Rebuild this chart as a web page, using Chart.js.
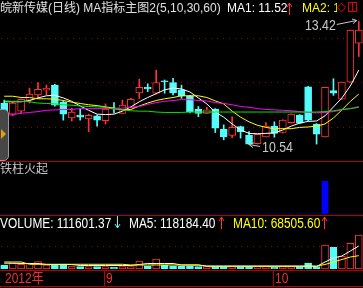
<!DOCTYPE html>
<html>
<head>
<meta charset="utf-8">
<script src="https://cdn.jsdelivr.net/npm/chart.js@4.4.1/dist/chart.umd.min.js"></script>
<style>
  html, body { margin: 0; padding: 0; background: #000; }
  #wrap { position: relative; width: 363px; height: 288px; overflow: hidden; background: #000;
          font-family: "Liberation Sans", "Noto Sans CJK SC", sans-serif; }
  canvas { position: absolute; left: 0; }
  .t { position: absolute; white-space: nowrap; line-height: 14px; height: 14px; }
  .nar { transform: scaleX(0.85); transform-origin: 0 0; }
  .sep { position: absolute; left: 0; width: 363px; height: 1px; background: #b40000; }
  svg { position: absolute; }
</style>
</head>
<body>
<div id="wrap">
  <canvas id="kline" width="363" height="161" style="top:0"></canvas>
  <canvas id="signal" width="363" height="53" style="top:162px"></canvas>
  <canvas id="vol" width="363" height="72" style="top:216px"></canvas>

  <div class="sep" style="top:161px"></div>
  <div class="sep" style="top:215px"></div>
  <div class="sep" style="top:270px"></div>
  <div class="sep" style="top:286px"></div>

  <!-- header of the price panel -->
  <div class="t" style="left:0;top:1px;font-size:12px;color:#e0e0e0">皖新传媒(日线) MA指标主图2(5,10,30,60)</div>
  <div class="t" style="left:227px;top:1px;font-size:12px;color:#fff">MA1: 11.52</div>
  <svg style="left:286px;top:2px" width="7" height="13"><path d="M3.5 1V13M1 5L3.5 1L6 5" stroke="#ff3232" fill="none"/></svg>
  <div class="t" style="left:302px;top:1px;width:35px;overflow:hidden;font-size:12px;color:#ffff00">MA2: 11.67</div>
  <svg style="left:336px;top:1px" width="24" height="13">
    <path d="M5.5 2L9.5 6.5L5.5 11L1.5 6.5Z" stroke="#e00000" fill="none"/>
    <rect x="12.5" y="1.5" width="8" height="9" stroke="#e00000" fill="none"/>
    <path d="M16.5 1.5V10.5" stroke="#e00000"/>
  </svg>

  <!-- collapse tab at left edge -->
  <div style="position:absolute;left:-6px;top:109px;width:13px;height:50px;background:#474747;border:1px solid #9a9a9a;border-radius:5px"></div>
  <div style="position:absolute;left:1px;top:129px;width:0;height:0;border-top:5px solid transparent;border-bottom:5px solid transparent;border-left:5px solid #e0a010"></div>

  <!-- indicator panel -->
  <div class="t" style="left:0;top:162px;font-size:12px;color:#c8c8c8">铁柱火起</div>

  <!-- volume header -->
  <div class="t nar" style="left:0;top:216px;font-size:14px;color:#fff">VOLUME: 111601.37</div>
  <svg style="left:114px;top:216px" width="7" height="13"><path d="M3.5 0V12M1 8L3.5 12L6 8" stroke="#54fcfc" fill="none"/></svg>
  <div class="t nar" style="left:129px;top:216px;font-size:14px;color:#fff">MA5: 118184.40</div>
  <svg style="left:218px;top:216px" width="7" height="13"><path d="M3.5 1V13M1 5L3.5 1L6 5" stroke="#ff3232" fill="none"/></svg>
  <div class="t nar" style="left:233px;top:216px;font-size:14px;color:#ffff00">MA10: 68505.60</div>
  <svg style="left:321px;top:216px" width="7" height="13"><path d="M3.5 1V13M1 5L3.5 1L6 5" stroke="#ff3232" fill="none"/></svg>
</div>

<script>
  // trading days shown, 2012-08-16 .. 2012-10-22
  const dates = [
    "08-16", "08-17", "08-20", "08-21", "08-22", "08-23", "08-24", "08-27", "08-28", "08-29", "08-30", "08-31",
    "09-03", "09-04", "09-05", "09-06", "09-07", "09-10", "09-11", "09-12", "09-13", "09-14",
    "09-17", "09-18", "09-19", "09-20", "09-21", "09-24", "09-25", "09-26", "09-27", "09-28",
    "10-08", "10-09", "10-10", "10-11", "10-12", "10-15", "10-16", "10-17", "10-18", "10-19", "10-22"
  ];
  const opens  = [11.51, 11.25, 11.32, 11.58, 11.70, 11.81, 11.93, 11.53, 11.16, 11.23, 11.14, 11.21, 11.10, 11.40, 11.27, 11.41, 11.75, 11.88, 11.74, 12.03, 11.99, 11.82, 11.68, 11.37, 11.27, 11.37, 10.90, 10.75, 10.96, 10.76, 10.56, 10.72, 10.97, 10.82, 11.05, 11.23, 11.89, 11.02, 10.72, 11.80, 11.60, 12.00, 12.91];
  const highs  = [11.58, 11.54, 11.61, 11.86, 11.99, 11.93, 11.95, 11.56, 11.39, 11.37, 11.25, 11.23, 11.49, 11.52, 11.58, 11.62, 12.07, 11.96, 12.28, 12.05, 12.09, 11.93, 11.69, 11.43, 11.41, 11.38, 11.00, 11.19, 10.97, 10.84, 10.79, 11.05, 11.07, 11.12, 11.26, 11.24, 11.90, 11.03, 11.88, 12.08, 12.00, 13.22, 13.42];
  const lows   = [11.30, 11.21, 11.28, 11.51, 11.61, 11.70, 11.44, 11.11, 11.09, 11.11, 10.84, 10.97, 11.02, 11.28, 11.27, 11.40, 11.62, 11.78, 11.72, 11.74, 11.70, 11.62, 11.28, 11.19, 11.27, 10.82, 10.65, 10.70, 10.69, 10.54, 10.55, 10.72, 10.71, 10.81, 11.04, 11.03, 11.10, 10.55, 10.72, 11.69, 11.60, 12.00, 12.60];
  const closes = [11.32, 11.51, 11.60, 11.72, 11.83, 11.86, 11.46, 11.25, 11.30, 11.18, 11.22, 11.11, 11.37, 11.37, 11.46, 11.60, 11.88, 11.84, 11.99, 12.01, 11.75, 11.68, 11.30, 11.27, 11.35, 10.92, 10.72, 10.94, 10.84, 10.55, 10.78, 10.97, 10.80, 11.11, 11.25, 11.04, 11.11, 10.78, 11.88, 11.74, 12.00, 13.22, 13.22];

  const ma5  = [11.54, 11.54, 11.54, 11.57, 11.63, 11.68, 11.69, 11.63, 11.55, 11.44, 11.34, 11.25, 11.24, 11.25, 11.32, 11.42, 11.54, 11.64, 11.73, 11.82, 11.86, 11.84, 11.77, 11.63, 11.49, 11.30, 11.18, 11.02, 10.88, 10.80, 10.79, 10.80, 10.81, 10.88, 10.97, 11.04, 11.08, 11.09, 11.21, 11.42, 11.63, 11.91, 12.28];
  const ma10 = [11.67, 11.67, 11.64, 11.64, 11.61, 11.61, 11.60, 11.57, 11.53, 11.50, 11.47, 11.45, 11.42, 11.39, 11.35, 11.36, 11.44, 11.51, 11.57, 11.61, 11.64, 11.68, 11.68, 11.68, 11.64, 11.56, 11.49, 11.32, 11.18, 11.07, 10.99, 10.94, 10.91, 10.91, 10.91, 10.94, 10.95, 10.97, 11.02, 11.16, 11.35, 11.55, 11.72];
  const ma30 = [11.21, 11.24, 11.27, 11.29, 11.31, 11.34, 11.35, 11.36, 11.36, 11.38, 11.38, 11.38, 11.38, 11.38, 11.39, 11.41, 11.43, 11.48, 11.52, 11.55, 11.57, 11.59, 11.59, 11.57, 11.56, 11.52, 11.50, 11.47, 11.43, 11.41, 11.38, 11.36, 11.35, 11.34, 11.33, 11.31, 11.29, 11.28, 11.29, 11.31, 11.35, 11.38, 11.43];
  const ma60 = [11.56, 11.55, 11.55, 11.54, 11.51, 11.50, 11.49, 11.47, 11.46, 11.44, 11.43, 11.42, 11.41, 11.37, 11.35, 11.33, 11.32, 11.32, 11.30, 11.29, 11.29, 11.29, 11.30, 11.30, 11.30, 11.30, 11.30, 11.30, 11.30, 11.30, 11.30, 11.30, 11.30, 11.30, 11.30, 11.30, 11.30, 11.30, 11.31, 11.33, 11.36, 11.38, 11.41];

  const volumes = [20600, 29300, 24200, 29300, 37500, 20600, 20600, 25700, 15400, 11800, 11800, 11800, 11800, 8700, 11800, 11800, 41100, 15400, 51400, 20600, 15400, 15400, 15400, 11800, 11800, 11800, 11800, 11800, 11800, 11800, 11800, 11800, 8700, 11800, 11800, 11800, 30800, 11800, 123400, 111601, 66800, 132100, 174800];
  const volMa5  = [30000, 30000, 28300, 28300, 28300, 23100, 23100, 23100, 23100, 18000, 18000, 18000, 18000, 18000, 18000, 18000, 23100, 28300, 28300, 28300, 28300, 20600, 20600, 20600, 13900, 13900, 13900, 13900, 13900, 13900, 13900, 13900, 13900, 13900, 13900, 13900, 13900, 12900, 36000, 56500, 66800, 92500, 118184];
  const volMa10 = [36000, 36000, 36000, 24200, 24200, 24200, 24200, 24200, 24200, 24200, 24200, 24200, 24200, 24200, 24200, 20600, 20600, 20600, 20600, 20600, 20600, 20600, 20600, 20600, 15400, 15400, 15400, 15400, 15400, 15400, 15400, 15400, 15400, 15400, 15400, 15400, 15400, 15400, 23100, 36000, 48800, 61700, 68506];

  // 铁柱火起 signal
  const signal = [0, 0, 0, 0, 0, 0, 0, 0, 0, 0, 0, 0, 0, 0, 0, 0, 0, 0, 0, 0, 0, 0, 0, 0, 0, 0, 0, 0, 0, 0, 0, 0, 0, 0, 0, 0, 0, 0, 1, 0, 0, 0, 0];

  const priceGrid = [10.95, 12.0, 13.03];
  const volGrid = [118200];
  const monthIdx = [0, 12, 32];
  const monthText = ["2012年", "9", "10"];

  const RED = "#ff3232", CYAN = "#54fcfc", BLUE = "#0000ff";
  const GRID = "#a00000", SEP = "#b40000", LABEL = "#c8c8c8";

  const up = closes.map((c, i) => c >= opens[i]);

  function baseOptions(ymin, ymax, pad) {
    return {
      responsive: false, animation: false, events: [],
      layout: { padding: pad },
      plugins: { legend: { display: false }, tooltip: { enabled: false } },
      scales: {
        x: { type: "category", offset: true, display: false },
        y: { display: false, min: ymin, max: ymax },
      },
    };
  }

  function dotGrid(vals) {
    return {
      id: "dotGrid",
      beforeDatasetsDraw(chart) {
        const { ctx, chartArea, scales } = chart;
        ctx.save();
        ctx.strokeStyle = GRID; ctx.lineWidth = 1; ctx.setLineDash([1, 5]);
        vals.forEach((v) => {
          const y = Math.round(scales.y.getPixelForValue(v)) + 0.5;
          ctx.beginPath(); ctx.moveTo(chartArea.left + 1, y); ctx.lineTo(chartArea.right, y); ctx.stroke();
        });
        ctx.restore();
      },
    };
  }

  function narrowText(ctx, text, x, y, sx) {
    ctx.save(); ctx.translate(x, y); ctx.scale(sx, 1); ctx.fillText(text, 0, 0); ctx.restore();
  }

  function arrow(ctx, x1, y1, x2, y2) {
    const a = Math.atan2(y2 - y1, x2 - x1);
    ctx.beginPath();
    ctx.moveTo(x1, y1); ctx.lineTo(x2, y2);
    ctx.moveTo(x2 - 5 * Math.cos(a - 0.5), y2 - 5 * Math.sin(a - 0.5)); ctx.lineTo(x2, y2);
    ctx.lineTo(x2 - 5 * Math.cos(a + 0.5), y2 - 5 * Math.sin(a + 0.5));
    ctx.stroke();
  }

  // marks the highest and lowest price
  const extremes = {
    id: "extremes",
    afterDatasetsDraw(chart) {
      const { ctx, scales: { x, y } } = chart;
      let hi = 0, lo = 0;
      highs.forEach((v, i) => { if (v > highs[hi]) hi = i; });
      lows.forEach((v, i) => { if (v < lows[lo]) lo = i; });
      ctx.save();
      ctx.strokeStyle = ctx.fillStyle = LABEL;
      ctx.lineWidth = 1;
      ctx.font = '14px "Liberation Sans"';
      ctx.textBaseline = "middle";
      const sx = 0.88;

      const hx = x.getPixelForValue(hi) - 2, hy = y.getPixelForValue(highs[hi]) - 1;
      const ht = highs[hi].toFixed(2);
      const hw = ctx.measureText(ht).width * sx;
      narrowText(ctx, ht, hx - 21 - hw, hy + 6, sx);
      arrow(ctx, hx - 20, hy + 4, hx, hy);

      const lx = x.getPixelForValue(lo), ly = y.getPixelForValue(lows[lo]);
      const lt = lows[lo].toFixed(2);
      narrowText(ctx, lt, lx + 13, ly + 4, sx);
      arrow(ctx, lx + 11, ly + 2, lx, ly);
      ctx.restore();
    },
  };

  // month dividers and labels under the volume panel
  const dateAxis = {
    id: "dateAxis",
    afterDraw(chart) {
      const { ctx, chartArea, scales: { x } } = chart;
      const top = chartArea.bottom + 1;
      ctx.save();
      ctx.strokeStyle = SEP; ctx.fillStyle = "#f03030"; ctx.lineWidth = 1;
      ctx.font = '15px "Liberation Sans", "Noto Sans CJK SC"';
      ctx.textBaseline = "alphabetic";
      monthIdx.forEach((idx, k) => {
        const px = Math.floor(x.getPixelForValue(idx)) - 1;
        if (idx > 0) {
          ctx.beginPath(); ctx.moveTo(px + 0.5, top); ctx.lineTo(px + 0.5, top + 16); ctx.stroke();
        }
        narrowText(ctx, monthText[k], px + 2, top + 13, 0.8);
      });
      ctx.restore();
    },
  };

  function line(data, color) {
    return { type: "line", data, borderColor: color, borderWidth: 1, pointRadius: 0, tension: 0, fill: false };
  }

  new Chart(document.getElementById("kline"), {
    type: "bar",
    data: {
      labels: dates,
      datasets: [
        line(ma60, "#00e600"),
        line(ma30, "#ff00ff"),
        line(ma10, "#ffff00"),
        line(ma5, "#ffffff"),
        {
          data: opens.map((o, i) => [o, closes[i]]),
          backgroundColor: up.map((u) => (u ? "#000" : CYAN)),
          borderColor: up.map((u) => (u ? RED : CYAN)),
          borderWidth: 1, borderSkipped: false, barThickness: 7, grouped: false,
        },
        {
          data: lows.map((l, i) => [l, highs[i]]),
          backgroundColor: up.map((u) => (u ? RED : CYAN)),
          borderWidth: 0, barThickness: 1, grouped: false,
        },
      ],
    },
    options: baseOptions(10.2235, 13.525, { top: 17, bottom: 3, left: 0, right: 0 }),
    plugins: [dotGrid(priceGrid), extremes],
  });

  new Chart(document.getElementById("signal"), {
    type: "bar",
    data: {
      labels: dates,
      datasets: [{ data: signal, backgroundColor: BLUE, borderWidth: 0, barThickness: 6 }],
    },
    options: baseOptions(0, 1, { top: 19, bottom: 1, left: 0, right: 0 }),
  });

  new Chart(document.getElementById("vol"), {
    type: "bar",
    data: {
      labels: dates,
      datasets: [
        line(volMa10, "#ffff00"),
        line(volMa5, "#ffffff"),
        {
          data: volumes,
          backgroundColor: up.map((u) => (u ? "#000" : CYAN)),
          borderColor: up.map((u) => (u ? RED : CYAN)),
          borderWidth: 1, borderSkipped: false, barThickness: 7, grouped: false,
        },
      ],
    },
    options: baseOptions(0, 205600, { top: 13, bottom: 19, left: 0, right: 0 }),
    plugins: [dotGrid(volGrid), dateAxis],
  });
</script>
</body>
</html>
